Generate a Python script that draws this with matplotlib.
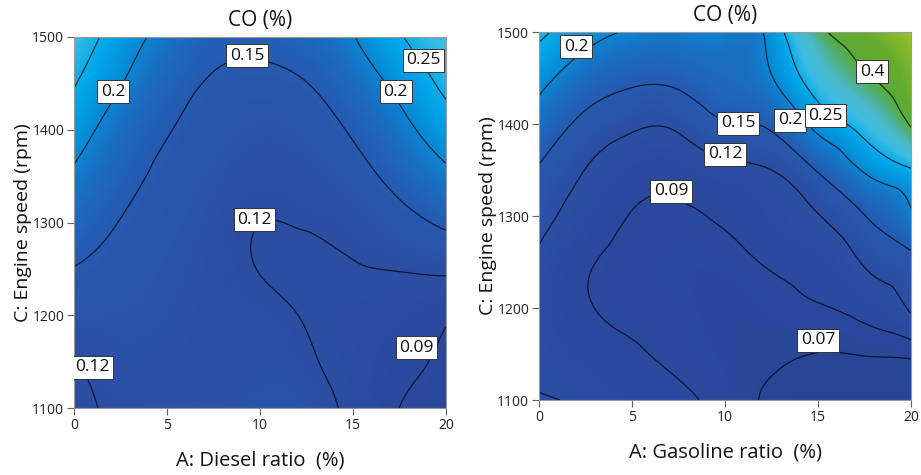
import numpy as np
import matplotlib
matplotlib.use("Agg")
import matplotlib.pyplot as plt
import matplotlib.tri as mtri
from matplotlib.colors import LinearSegmentedColormap, Normalize

plt.rcParams['font.family'] = ['Open Sans', 'DejaVu Sans']

# ---------------- data ----------------
ratio = [0, 2.5, 5, 7.5, 10, 12.5, 15, 17.5, 20]
speed = [1100, 1150, 1200, 1250, 1300, 1350, 1400, 1450, 1500]

# CO (%): rows = speed, columns = diesel ratio
co_diesel = [
    [0.113, 0.125, 0.128, 0.128, 0.132, 0.130, 0.113, 0.0898, 0.078],
    [0.1195, 0.128, 0.128, 0.127, 0.128, 0.123, 0.110, 0.097, 0.086],
    [0.133, 0.133, 0.130, 0.126, 0.124, 0.1185, 0.111, 0.106, 0.094],
    [0.149, 0.140, 0.133, 0.126, 0.1195, 0.116, 0.1185, 0.121, 0.125],
    [0.170, 0.149, 0.137, 0.128, 0.1201, 0.1213, 0.126, 0.139, 0.155],
    [0.193, 0.162, 0.143, 0.132, 0.125, 0.127, 0.138, 0.162, 0.190],
    [0.222, 0.178, 0.152, 0.138, 0.132, 0.136, 0.154, 0.186, 0.226],
    [0.253, 0.202, 0.166, 0.147, 0.143, 0.1495, 0.174, 0.213, 0.262],
    [0.285, 0.225, 0.185, 0.160, 0.158, 0.168, 0.198, 0.246, 0.290],
]

# CO (%): rows = speed, columns = gasoline ratio
co_gasoline = [
    [0.122, 0.1153, 0.100, 0.094, 0.082, 0.067, 0.064, 0.062, 0.060],
    [0.112, 0.100, 0.092, 0.086, 0.078, 0.073, 0.0695, 0.071, 0.074],
    [0.110, 0.092, 0.086, 0.082, 0.077, 0.081, 0.088, 0.100, 0.124],
    [0.115, 0.093, 0.084, 0.081, 0.082, 0.093, 0.102, 0.122, 0.138],
    [0.130, 0.106, 0.089, 0.087, 0.093, 0.105, 0.119, 0.149, 0.195],
    [0.147, 0.1195, 0.102, 0.100, 0.112, 0.120, 0.153, 0.204, 0.245],
    [0.178, 0.141, 0.125, 0.126, 0.147, 0.157, 0.215, 0.280, 0.410],
    [0.215, 0.175, 0.157, 0.158, 0.172, 0.198, 0.290, 0.385, 0.450],
    [0.262, 0.218, 0.196, 0.192, 0.194, 0.215, 0.375, 0.440, 0.465],
]

levels_diesel = [0.09, 0.12, 0.15, 0.2, 0.25]
levels_gasoline = [0.07, 0.09, 0.12, 0.15, 0.2, 0.25, 0.4]

x_ticks = [0, 5, 10, 15, 20]
y_ticks = [1100, 1200, 1300, 1400, 1500]

# ---------------- styling ----------------
vmin, vmax = 0.06, 0.47
stops = [
    (0.06, (40, 68, 150)),
    (0.09, (42, 72, 157)),
    (0.12, (43, 78, 163)),
    (0.15, (38, 90, 176)),
    (0.18, (25, 112, 195)),
    (0.21, (5, 145, 218)),
    (0.24, (0, 168, 234)),
    (0.28, (60, 188, 228)),
    (0.33, (75, 185, 200)),
    (0.37, (80, 175, 120)),
    (0.40, (88, 170, 60)),
    (0.44, (100, 172, 45)),
    (0.47, (160, 198, 40)),
]
cmap = LinearSegmentedColormap.from_list(
    'de', [((v - vmin) / (vmax - vmin), tuple(c / 255 for c in rgb)) for v, rgb in stops])
norm = Normalize(vmin=vmin, vmax=vmax)


def fmt(v):
    return f"{v:g}"


def draw(ax, z, levels, title, xlabel, label_pos):
    X, Y = np.meshgrid(ratio, speed)
    Z = np.array(z, dtype=float)
    # triangulate in scaled coordinates (both axes 0..20), then smooth with
    # matplotlib's cubic refiner
    ys = (Y - 1100.0) / 20.0
    tri = mtri.Triangulation(X.ravel(), ys.ravel())
    refiner = mtri.UniformTriRefiner(tri)
    tri_f, z_f = refiner.refine_field(Z.ravel(), subdiv=4)
    tri_d = mtri.Triangulation(tri_f.x, tri_f.y * 20.0 + 1100.0, tri_f.triangles)

    ax.tripcolor(tri_d, z_f, shading='gouraud', cmap=cmap, norm=norm)
    line_cols = [tuple(np.array(cmap(norm(l))[:3]) * 0.3) for l in levels]
    cs = ax.tricontour(tri_d, z_f, levels=levels, colors=line_cols, linewidths=0.9)
    texts = ax.clabel(cs, inline=False, fmt=fmt, manual=label_pos, fontsize=12.5)
    for t, p in zip(texts, label_pos):
        t.set_position(p)
        t.set_rotation(0)
        t.set_color('#111111')
        t.set_bbox(dict(facecolor='white', edgecolor='#333333', linewidth=0.7,
                        boxstyle='square,pad=0.2'))
    ax.set_xlim(0, 20)
    ax.set_ylim(1100, 1500)
    ax.set_xticks(x_ticks)
    ax.set_yticks(y_ticks)
    ax.tick_params(direction='out', length=5, width=0.8, color='#666666',
                   labelsize=10, labelcolor='#222222', pad=2)
    for s in ax.spines.values():
        s.set_color('#999999')
        s.set_linewidth(0.8)
    ax.set_title(title, fontsize=15, pad=8, color='#111111')
    ax.set_xlabel(xlabel, fontsize=14.5, labelpad=13, color='#111111')
    ax.set_ylabel('C: Engine speed (rpm)', fontsize=14, labelpad=0, color='#111111')


fig = plt.figure(figsize=(9.21, 4.75), dpi=100)
ax1 = fig.add_axes([74 / 921, 1 - 408 / 475, 372 / 921, 371 / 475])
ax2 = fig.add_axes([539 / 921, 1 - 400 / 475, 372 / 921, 368 / 475])

draw(ax1, co_diesel, levels_diesel, 'CO (%)', 'A: Diesel ratio  (%)',
     [(9.3, 1480), (2.1, 1441), (18.8, 1475), (17.3, 1441), (9.7, 1303), (1.0, 1144), (18.4, 1165)])
draw(ax2, co_gasoline, levels_gasoline, 'CO (%)', 'A: Gasoline ratio  (%)',
     [(2.0, 1484), (17.9, 1457), (10.7, 1401), (13.5, 1404), (15.4, 1409), (10.0, 1367),
      (7.1, 1327), (15.0, 1165)])

fig.savefig('out.png', dpi=100)
